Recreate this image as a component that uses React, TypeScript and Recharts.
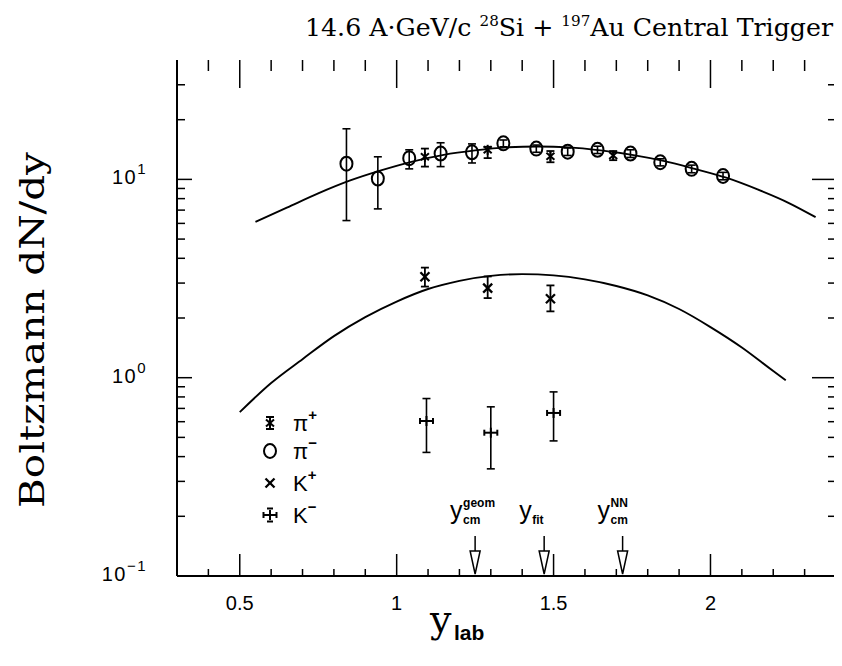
import React from "react";
import { ComposedChart, XAxis, YAxis, Scatter, Line, ErrorBar, ReferenceDot } from "recharts";

// pi- (open circles)
const piMinusX = [0.84, 0.94, 1.04, 1.14, 1.24, 1.34, 1.445, 1.545, 1.64, 1.745, 1.84, 1.94, 2.04];
const piMinusY = [12.0, 10.1, 12.8, 13.5, 13.7, 15.2, 14.3, 13.8, 14.1, 13.5, 12.2, 11.3, 10.4];
const piMinusLo = [6.2, 7.1, 11.3, 11.6, 12.1, 14.6, 13.7, 13.2, 13.5, 12.9, 11.7, 10.8, 9.95];
const piMinusHi = [18.0, 13.0, 14.1, 15.3, 15.1, 15.8, 14.9, 14.4, 14.7, 14.1, 12.7, 11.8, 10.85];

// pi+
const piPlusX = [1.09, 1.29, 1.49, 1.69];
const piPlusY = [13.0, 14.1, 13.1, 13.2];
const piPlusLo = [11.6, 12.8, 12.2, 12.5];
const piPlusHi = [14.3, 14.6, 13.9, 13.9];

// K+
const kPlusX = [1.09, 1.29, 1.49];
const kPlusY = [3.23, 2.83, 2.5];
const kPlusLo = [2.88, 2.52, 2.16];
const kPlusHi = [3.59, 3.24, 2.92];

// K-
const kMinusX = [1.095, 1.3, 1.5];
const kMinusY = [0.605, 0.528, 0.664];
const kMinusLo = [0.42, 0.347, 0.48];
const kMinusHi = [0.785, 0.713, 0.848];

// fitted curves
const piCurveX = [0.55, 0.65, 0.75, 0.85, 0.95, 1.05, 1.15, 1.25, 1.35, 1.45, 1.55, 1.65, 1.75, 1.85, 1.95, 2.05, 2.15, 2.25, 2.335];
const piCurveY = [6.1, 7.2, 8.5, 9.85, 11.1, 12.3, 13.3, 14.0, 14.5, 14.65, 14.5, 14.0, 13.3, 12.4, 11.3, 10.2, 8.9, 7.6, 6.45];
const kCurveX = [0.5, 0.6, 0.7, 0.8, 0.9, 1.0, 1.1, 1.2, 1.3, 1.4, 1.5, 1.6, 1.7, 1.8, 1.9, 2.0, 2.1, 2.2, 2.24];
const kCurveY = [0.67, 0.94, 1.24, 1.62, 2.02, 2.42, 2.8, 3.08, 3.26, 3.33, 3.28, 3.13, 2.9, 2.6, 2.22, 1.8, 1.42, 1.08, 0.97];

// rapidity markers
const arrowX = [1.25, 1.47, 1.72];
const arrowSup = ["geom", "", "NN"];
const arrowSub = ["cm", "fit", "cm"];

const xTicks = [0.4, 0.5, 0.6, 0.7, 0.8, 0.9, 1.0, 1.1, 1.2, 1.3, 1.4, 1.5, 1.6, 1.7, 1.8, 1.9, 2.0, 2.1, 2.2, 2.3];
const xMajor = [0.5, 1, 1.5, 2];
const xMajorLabels = ["0.5", "1", "1.5", "2"];
const yTicks = [0.1, 0.2, 0.3, 0.4, 0.5, 0.6, 0.7, 0.8, 0.9, 1, 2, 3, 4, 5, 6, 7, 8, 9, 10, 20, 30];
const yDecades = [0.1, 1, 10];
const yDecadeExp = ["\u22121", "0", "1"];

const W = 834;
const H = 650;
const MARGIN = { top: 52, right: 6, bottom: 52, left: 109 };
const PLOT_TOP = MARGIN.top;
const PLOT_RIGHT = W - MARGIN.right;
const SANS = "Liberation Sans, Arial, sans-serif";
const SERIF = "DejaVu Serif, serif";

const withErr = (xs: number[], ys: number[], lo: number[], hi: number[]) =>
  xs.map((x, i) => ({ x, y: ys[i], err: [ys[i] - lo[i], hi[i] - ys[i]] }));
const curve = (xs: number[], ys: number[]) => xs.map((x, i) => ({ x, y: ys[i] }));

const piMinus = withErr(piMinusX, piMinusY, piMinusLo, piMinusHi);
const piPlus = withErr(piPlusX, piPlusY, piPlusLo, piPlusHi);
const kPlus = withErr(kPlusX, kPlusY, kPlusLo, kPlusHi);
const kMinus = withErr(kMinusX, kMinusY, kMinusLo, kMinusHi);
const piCurve = curve(piCurveX, piCurveY);
const kCurve = curve(kCurveX, kCurveY);

const near = (list: number[], v: number) => list.findIndex((m) => Math.abs(m - Number(v)) < 1e-6);

const sw = 2;

function CircleMark({ cx, cy }: any) {
  return <ellipse cx={cx} cy={cy} rx={6} ry={7} fill="none" stroke="#000" strokeWidth={sw} />;
}
function PiPlusMark({ cx, cy, caps }: any) {
  return (
    <g stroke="#000" strokeWidth={sw}>
      <line x1={cx} x2={cx} y1={cy - 5} y2={cy + 5} />
      <line x1={cx - 4} x2={cx + 4} y1={cy - 3.5} y2={cy + 3.5} />
      <line x1={cx - 4} x2={cx + 4} y1={cy + 3.5} y2={cy - 3.5} />
      {caps && <line x1={cx - 4} x2={cx + 4} y1={cy - 6} y2={cy - 6} />}
      {caps && <line x1={cx - 4} x2={cx + 4} y1={cy + 6} y2={cy + 6} />}
    </g>
  );
}
function KPlusMark({ cx, cy }: any) {
  return (
    <g stroke="#000" strokeWidth={sw + 0.3}>
      <line x1={cx - 4.5} x2={cx + 4.5} y1={cy - 4.5} y2={cy + 4.5} />
      <line x1={cx - 4.5} x2={cx + 4.5} y1={cy + 4.5} y2={cy - 4.5} />
    </g>
  );
}
function KMinusMark({ cx, cy, caps }: any) {
  return (
    <g stroke="#000" strokeWidth={sw}>
      <line x1={cx - 6.5} x2={cx + 6.5} y1={cy} y2={cy} />
      <line x1={cx - 6.5} x2={cx - 6.5} y1={cy - 3} y2={cy + 3} />
      <line x1={cx + 6.5} x2={cx + 6.5} y1={cy - 3} y2={cy + 3} />
      <line x1={cx} x2={cx} y1={cy - 5} y2={cy + 5} />
      {caps && <line x1={cx - 3} x2={cx + 3} y1={cy - 6.5} y2={cy - 6.5} />}
      {caps && <line x1={cx - 3} x2={cx + 3} y1={cy + 6.5} y2={cy + 6.5} />}
    </g>
  );
}

// bottom axis tick: inward tick on the bottom and the matching one on the top frame
function XTick({ x, y, payload }: any) {
  const i = near(xMajor, payload.value);
  const major = i >= 0;
  return (
    <g>
      <line x1={x} x2={x} y1={y} y2={y - (major ? 22 : 7)} stroke="#000" strokeWidth={1.5} />
      <line x1={x} x2={x} y1={PLOT_TOP} y2={PLOT_TOP + (major ? 28 : 11)} stroke="#000" strokeWidth={1.5} />
      {major && (
        <text x={x} y={y + 34} textAnchor="middle" fontFamily={SANS} fontSize={20} fill="#000">
          {xMajorLabels[i]}
        </text>
      )}
    </g>
  );
}
// left axis tick: inward tick on the left and the matching one on the right frame
function YTick({ x, y, payload }: any) {
  const i = near(yDecades, payload.value);
  const major = i >= 0;
  return (
    <g>
      <line x1={x} x2={x + (major ? 15 : 8)} y1={y} y2={y} stroke="#000" strokeWidth={1.5} />
      <line x1={PLOT_RIGHT} x2={PLOT_RIGHT - (major ? 24 : 8)} y1={y} y2={y} stroke="#000" strokeWidth={1.5} />
      {major && (
        <text x={x - 30} y={y + 5} textAnchor="end" fontFamily={SANS} fontSize={20} fill="#000" letterSpacing={1.5}>
          <tspan>10</tspan>
          <tspan dy={-10} fontSize={15}>{yDecadeExp[i]}</tspan>
        </text>
      )}
    </g>
  );
}

function ArrowMark({ cx, cy, idx }: any) {
  const sup = arrowSup[idx];
  const sub = arrowSub[idx];
  return (
    <g>
      <line x1={cx} x2={cx} y1={cy - 40} y2={cy - 25} stroke="#000" strokeWidth={1.5} />
      <path d={`M${cx - 5},${cy - 25} L${cx + 5},${cy - 25} L${cx},${cy - 2} Z`} fill="#fff" stroke="#000" strokeWidth={1.5} />
      <text x={cx - 25} y={cy - 57} fontFamily={SANS} fontSize={25} fill="#000">y</text>
      {sup && (
        <text x={cx - 12} y={cy - 69} fontFamily={SANS} fontSize={12} fontWeight="bold" fill="#000">{sup}</text>
      )}
      <text x={cx - 12} y={cy - 52} fontFamily={SANS} fontSize={12} fontWeight="bold" fill="#000">{sub}</text>
    </g>
  );
}

const legendRows = [
  { label: "\u03c0", sign: "+", y: 415 },
  { label: "\u03c0", sign: "\u2212", y: 443 },
  { label: "K", sign: "+", y: 475 },
  { label: "K", sign: "\u2212", y: 507 },
];

export default function App() {
  return (
    <div style={{ position: "relative", width: W, height: H, background: "#fff" }}>
      <ComposedChart width={W} height={H} margin={MARGIN}>
        <XAxis
          dataKey="x"
          type="number"
          domain={[0.3, 2.4]}
          allowDataOverflow
          ticks={xTicks}
          interval={0}
          tickSize={0}
          tickMargin={0}
          tickLine={false}
          height={30}
          axisLine={{ stroke: "#000", strokeWidth: 2 }}
          tick={(p: any) => <XTick {...p} />}
        />
        <XAxis
          xAxisId="t"
          orientation="top"
          type="number"
          domain={[0.3, 2.4]}
          allowDataOverflow
          tick={false}
          tickLine={false}
          height={0}
          axisLine={{ stroke: "#000", strokeWidth: 2 }}
        />
        <YAxis
          type="number"
          scale="log"
          domain={[0.1, 40]}
          allowDataOverflow
          ticks={yTicks}
          interval={0}
          tickSize={0}
          tickMargin={0}
          tickLine={false}
          width={60}
          axisLine={{ stroke: "#000", strokeWidth: 2 }}
          tick={(p: any) => <YTick {...p} />}
        />
        <YAxis
          yAxisId="r"
          orientation="right"
          type="number"
          scale="log"
          domain={[0.1, 40]}
          allowDataOverflow
          tick={false}
          tickLine={false}
          width={0}
          axisLine={{ stroke: "#000", strokeWidth: 2 }}
        />
        <Line data={piCurve} dataKey="y" type="monotone" dot={false} stroke="#000" strokeWidth={1.9} isAnimationActive={false} />
        <Line data={kCurve} dataKey="y" type="monotone" dot={false} stroke="#000" strokeWidth={1.9} isAnimationActive={false} />
        <Scatter data={piMinus} dataKey="y" isAnimationActive={false} shape={(p: any) => <CircleMark cx={p.cx} cy={p.cy} />}>
          <ErrorBar dataKey="err" direction="y" width={4} stroke="#000" strokeWidth={1.6} isAnimationActive={false} />
        </Scatter>
        <Scatter data={piPlus} dataKey="y" isAnimationActive={false} shape={(p: any) => <PiPlusMark cx={p.cx} cy={p.cy} />}>
          <ErrorBar dataKey="err" direction="y" width={4} stroke="#000" strokeWidth={1.8} isAnimationActive={false} />
        </Scatter>
        <Scatter data={kPlus} dataKey="y" isAnimationActive={false} shape={(p: any) => <KPlusMark cx={p.cx} cy={p.cy} />}>
          <ErrorBar dataKey="err" direction="y" width={4} stroke="#000" strokeWidth={1.8} isAnimationActive={false} />
        </Scatter>
        <Scatter data={kMinus} dataKey="y" isAnimationActive={false} shape={(p: any) => <KMinusMark cx={p.cx} cy={p.cy} />}>
          <ErrorBar dataKey="err" direction="y" width={4} stroke="#000" strokeWidth={1.6} isAnimationActive={false} />
        </Scatter>
        {arrowX.map((ax, i) => (
          <ReferenceDot key={i} x={ax} y={0.1} ifOverflow="visible" shape={(p: any) => <ArrowMark cx={p.cx} cy={p.cy} idx={i} />} />
        ))}
      </ComposedChart>
      <svg width={W} height={H} style={{ position: "absolute", left: 0, top: 0, pointerEvents: "none" }}>
        <text x={297} y={28} fontFamily={SERIF} fontSize={25} fill="#000" textLength={528} lengthAdjust="spacingAndGlyphs">
          <tspan>14.6 A·GeV/c </tspan>
          <tspan dy={-10} fontSize={15}>28</tspan>
          <tspan dy={10}>Si + </tspan>
          <tspan dy={-10} fontSize={15}>197</tspan>
          <tspan dy={10}>Au  Central Trigger</tspan>
        </text>
        <text
          transform="translate(36,322) rotate(-90)"
          textAnchor="middle"
          fontFamily={SERIF}
          fontSize={34}
          fill="#000"
          textLength={356}
          lengthAdjust="spacingAndGlyphs"
        >
          Boltzmann dN/dy
        </text>
        <text x={422} y={624} fontFamily={SERIF} fontSize={38} fill="#000">y</text>
        <text x={446} y={632} fontFamily={SANS} fontSize={21} fontWeight="bold" fill="#000">lab</text>
        {legendRows.map((r, i) => (
          <g key={i}>
            {i === 0 && <PiPlusMark cx={262} cy={r.y} caps />}
            {i === 1 && <CircleMark cx={262} cy={r.y} />}
            {i === 2 && <KPlusMark cx={262} cy={r.y} />}
            {i === 3 && <KMinusMark cx={262} cy={r.y} caps />}
            <text x={285} y={r.y + 8} fontFamily={SANS} fontSize={22} fill="#000">
              <tspan>{r.label}</tspan>
              <tspan dy={-11} fontSize={15} fontWeight="bold">{r.sign}</tspan>
            </text>
          </g>
        ))}
      </svg>
    </div>
  );
}
